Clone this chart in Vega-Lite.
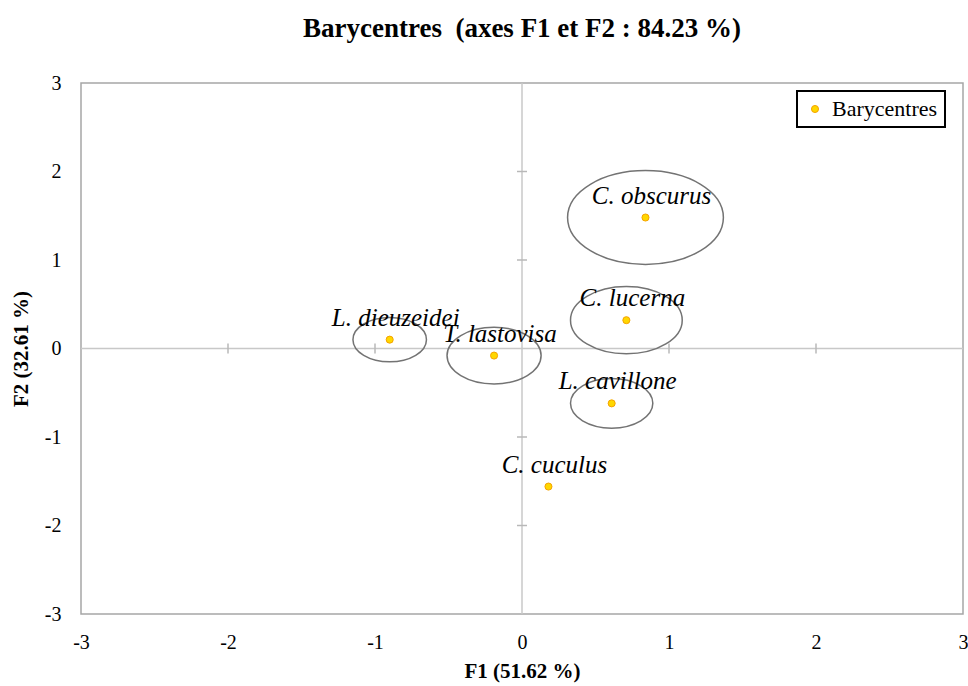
{
  "$schema": "https://vega.github.io/schema/vega-lite/v6.json",
  "autosize": "none",
  "width": 882,
  "height": 531,
  "padding": {"left": 81, "top": 83, "right": 5, "bottom": 72},
  "background": "white",
  "config": {
    "font": "Liberation Serif",
    "view": {"stroke": "#a6a6a6", "strokeWidth": 1.5},
    "legend": {"strokeWidth": 2}
  },
  "title": {
    "text": "Barycentres \u00a0(axes F1 et F2 : 84.23 %)",
    "font": "Liberation Serif",
    "fontSize": 27,
    "fontWeight": "bold",
    "color": "black",
    "offset": 30,
    "anchor": "middle"
  },
  "datasets": {
    "bary": [
      {"espece": "C. obscurus", "f1": 0.84, "f2": 1.48, "r": 0.53},
      {"espece": "C. lucerna", "f1": 0.71, "f2": 0.32, "r": 0.38},
      {"espece": "L. cavillone", "f1": 0.61, "f2": -0.62, "r": 0.28},
      {"espece": "C. cuculus", "f1": 0.18, "f2": -1.56, "r": null},
      {"espece": "T. lastovisa", "f1": -0.19, "f2": -0.08, "r": 0.32},
      {"espece": "L. dieuzeidei", "f1": -0.90, "f2": 0.10, "r": 0.25}
    ],
    "grad": [
      {"axe": "h", "gx": -2, "gy": 0},
      {"axe": "h", "gx": -1, "gy": 0},
      {"axe": "h", "gx": 1, "gy": 0},
      {"axe": "h", "gx": 2, "gy": 0},
      {"axe": "v", "gx": 0, "gy": -2},
      {"axe": "v", "gx": 0, "gy": -1},
      {"axe": "v", "gx": 0, "gy": 1},
      {"axe": "v", "gx": 0, "gy": 2}
    ]
  },
  "data": {"name": "bary"},
  "encoding": {
    "x": {
      "field": "f1",
      "type": "quantitative",
      "scale": {"domain": [-3, 3], "nice": false, "zero": false},
      "axis": {
        "title": "F1 (51.62 %)",
        "values": [-3, -2, -1, 0, 1, 2, 3],
        "labelExpr": "toString(datum.value)",
        "grid": false, "domain": false, "ticks": false,
        "labelFlush": false, "labelOverlap": false,
        "labelFont": "Liberation Serif", "labelFontSize": 20, "labelColor": "black",
        "labelPadding": 18,
        "titleFont": "Liberation Serif", "titleFontSize": 21, "titleFontWeight": "bold", "titleColor": "black",
        "titlePadding": 8
      }
    },
    "y": {
      "field": "f2",
      "type": "quantitative",
      "scale": {"domain": [-3, 3], "nice": false, "zero": false},
      "axis": {
        "title": "F2 (32.61 %)",
        "values": [-3, -2, -1, 0, 1, 2, 3],
        "labelExpr": "toString(datum.value)",
        "grid": false, "domain": false, "ticks": false,
        "labelFlush": false, "labelOverlap": false,
        "labelFont": "Liberation Serif", "labelFontSize": 20, "labelColor": "black",
        "labelPadding": 20,
        "titleFont": "Liberation Serif", "titleFontSize": 21, "titleFontWeight": "bold", "titleColor": "black",
        "titlePadding": 13
      }
    }
  },
  "layer": [
    {
      "data": {"values": [{"z": 0}]},
      "mark": {"type": "rule", "color": "#c8c8c8", "strokeWidth": 1.5},
      "encoding": {"x": {"field": "z", "type": "quantitative"}, "y": null}
    },
    {
      "data": {"values": [{"z": 0}]},
      "mark": {"type": "rule", "color": "#c8c8c8", "strokeWidth": 1.5},
      "encoding": {"y": {"field": "z", "type": "quantitative"}, "x": null}
    },
    {
      "data": {"name": "grad"},
      "transform": [{"filter": "datum.axe === 'h'"}],
      "mark": {"type": "point", "filled": false, "stroke": "#b8b8b8", "strokeWidth": 1.5, "opacity": 1, "size": 100, "shape": "M 0 -1 L 0 1"},
      "encoding": {"x": {"field": "gx", "type": "quantitative"}, "y": {"field": "gy", "type": "quantitative"}}
    },
    {
      "data": {"name": "grad"},
      "transform": [{"filter": "datum.axe === 'v'"}],
      "mark": {"type": "point", "filled": false, "stroke": "#b8b8b8", "strokeWidth": 1.5, "opacity": 1, "size": 100, "shape": "M -1 0 L 1 0"},
      "encoding": {"x": {"field": "gx", "type": "quantitative"}, "y": {"field": "gy", "type": "quantitative"}}
    },
    {
      "transform": [{"filter": "isValid(datum.r)"}],
      "mark": {
        "type": "point",
        "filled": false,
        "stroke": "#737373",
        "strokeWidth": 1.5,
        "opacity": 1,
        "shape": "M -1 0 C -1 -0.3325 -0.5523 -0.602 0 -0.602 C 0.5523 -0.602 1 -0.3325 1 0 C 1 0.3325 0.5523 0.602 0 0.602 C -0.5523 0.602 -1 0.3325 -1 0 Z"
      },
      "encoding": {
        "size": {
          "field": "r",
          "type": "quantitative",
          "scale": {"type": "pow", "exponent": 2, "domain": [0, 1], "range": [0, 86436]},
          "legend": null
        }
      }
    },
    {
      "mark": {"type": "text", "font": "Liberation Serif", "fontStyle": "italic", "fontSize": 25, "color": "black", "dx": 6, "dy": -22},
      "encoding": {"text": {"field": "espece"}}
    },
    {
      "mark": {"type": "point", "filled": true, "size": 50, "stroke": "#F5A300", "strokeWidth": 1, "opacity": 1},
      "encoding": {
        "fill": {
          "datum": "Barycentres",
          "scale": {"range": ["#FFD700"]},
          "legend": {
            "title": null,
            "orient": "none",
            "legendX": 716,
            "legendY": 8,
            "strokeColor": "black",
            "padding": 7,
            "symbolSize": 50,
            "symbolStrokeColor": "#F5A300",
            "symbolStrokeWidth": 1,
            "labelFont": "Liberation Serif",
            "labelFontSize": 22,
            "labelColor": "black",
            "labelOffset": 6
          }
        }
      }
    }
  ]
}
